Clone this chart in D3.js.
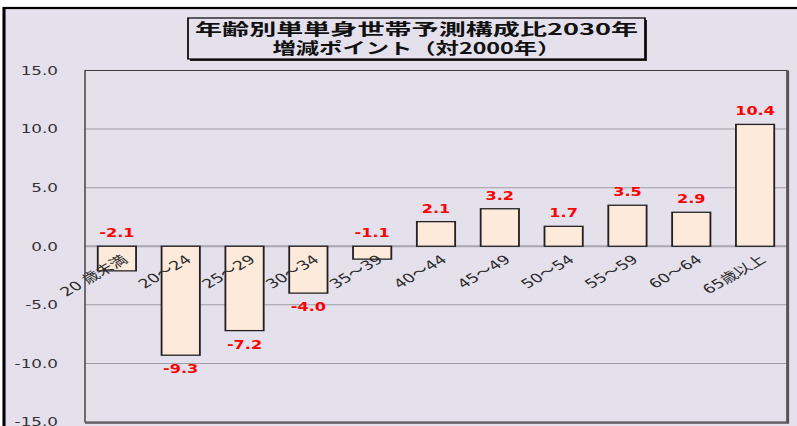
<!DOCTYPE html>
<html>
<head>
<meta charset="utf-8">
<script src="https://cdn.jsdelivr.net/npm/d3@7"></script>
<style>
  html, body { margin: 0; padding: 0; background: #fff; }
  svg { display: block; }
</style>
</head>
<body>
<div id="main"></div>
<script>
/*********************************************************
 * Data
 *********************************************************/
const categories = ['20 歳未満', '20～24', '25～29', '30～34', '35～39', '40～44',
  '45～49', '50～54', '55～59', '60～64', '65歳以上'];
const values = [-2.1, -9.3, -7.2, -4.0, -1.1, 2.1, 3.2, 1.7, 3.5, 2.9, 10.4];
const yTicks = [-15, -10, -5, 0, 5, 10, 15];
const titleLines = ['年齢別単単身世帯予測構成比2030年', '増減ポイント（対2000年）'];

/*********************************************************
 * Layout
 * the original picture is stretched sideways, so everything is
 * drawn in a narrower box and the viewBox widens it again
 *********************************************************/
const svgWidth = 797;
const svgHeight = 426;
const kx = 1.4;
const px = v => v / kx;

const plot = { l: 85, r: 787, t: 70.5, b: 422 };
const bg = '#e4e0ec';

// plain hyphen for negatives, like the original
const fmt = d3.formatLocale({
  decimal: '.', thousands: ',', grouping: [3], currency: ['', ''], minus: '-'
}).format('.1f');

const svg = d3
  .select('#main')
  .append('svg')
  .attr('width', svgWidth)
  .attr('height', svgHeight)
  .attr('viewBox', `0 0 ${px(svgWidth)} ${svgHeight}`)
  .attr('preserveAspectRatio', 'none');

// chart area + its black border (left and top only visible)
svg.append('rect')
  .attr('x', px(4)).attr('y', 8)
  .attr('width', px(svgWidth + 20)).attr('height', svgHeight + 20)
  .attr('fill', bg)
  .attr('stroke', '#000')
  .attr('stroke-width', 2.2);

/*********************************************************
 * Scales
 *********************************************************/
const x = d3.scaleBand()
  .domain(categories)
  .range([px(plot.l), px(plot.r)])
  .paddingInner(0.4)
  .paddingOuter(0.2);

const y = d3.scaleLinear()
  .domain([-15, 15])
  .range([plot.b, plot.t]);

/*********************************************************
 * Grid and frame
 *********************************************************/
svg.append('g')
  .selectAll('line')
  .data(yTicks.filter(t => t !== 15 && t !== -15))
  .enter().append('line')
  .attr('x1', px(plot.l)).attr('x2', px(plot.r))
  .attr('y1', d => y(d)).attr('y2', d => y(d))
  .attr('stroke', d => d === 0 ? '#aaa6b0' : '#a09ca6')
  .attr('stroke-width', d => d === 0 ? 2 : 1);

// frame
svg.append('rect')
  .attr('x', px(plot.l)).attr('y', plot.t)
  .attr('width', px(plot.r - plot.l)).attr('height', plot.b - plot.t)
  .attr('fill', 'none')
  .attr('stroke', '#3a3a3a')
  .attr('stroke-width', 1);
// heavier right / bottom edge
svg.append('path')
  .attr('d', `M${px(plot.r + 1)},${plot.t} V${plot.b + 1} H${px(plot.l)}`)
  .attr('fill', 'none')
  .attr('stroke', '#55525a')
  .attr('stroke-width', 1.6);

/*********************************************************
 * Y axis
 *********************************************************/
const yAxis = d3.axisLeft(y)
  .tickValues(yTicks)
  .tickFormat(fmt)
  .tickSize(0)
  .tickPadding(px(27));

svg.append('g')
  .attr('transform', `translate(${px(plot.l)},0)`)
  .call(yAxis)
  .call(g => g.select('.domain').remove())
  .selectAll('text')
  .attr('font-family', '"DejaVu Sans", Verdana, sans-serif')
  .attr('font-size', 12)
  .attr('fill', '#333');

/*********************************************************
 * Bars
 *********************************************************/
const data = categories.map((c, i) => ({ c, v: values[i] }));

svg.append('g')
  .selectAll('rect')
  .data(data)
  .enter().append('rect')
  .attr('x', d => x(d.c))
  .attr('width', x.bandwidth())
  .attr('y', d => y(Math.max(0, d.v)))
  .attr('height', d => Math.abs(y(d.v) - y(0)))
  .attr('fill', '#fdeadb')
  .attr('stroke', '#222')
  .attr('stroke-width', 1.3);

/*********************************************************
 * X axis labels (rotated, drawn across the bars)
 *********************************************************/
const xAxis = d3.axisBottom(x).tickSize(0).tickPadding(0);

svg.append('g')
  .attr('transform', `translate(0,${y(0)})`)
  .call(xAxis)
  .call(g => g.select('.domain').remove())
  .selectAll('text')
  .attr('font-family', '"DejaVu Sans", "Noto Sans CJK JP", sans-serif')
  .attr('font-size', 12.5)
  .attr('fill', '#2a2a2a')
  .attr('text-anchor', 'end')
  .attr('dy', '0.8em')
  .attr('transform', `translate(${px(3)},7) rotate(-39)`);

/*********************************************************
 * Value labels
 *********************************************************/
svg.append('g')
  .selectAll('text')
  .data(data)
  .enter().append('text')
  .attr('x', d => x(d.c) + x.bandwidth() / 2)
  .attr('y', d => {
    if (d.v >= 0) return y(d.v) - 9;
    if (d.v > -2.5) return y(0) - 9;   // small negatives sit above the axis
    return y(d.v) + 18;
  })
  .attr('text-anchor', 'middle')
  .attr('font-family', '"DejaVu Sans", Verdana, sans-serif')
  .attr('font-weight', 'bold')
  .attr('font-size', 11.5)
  .attr('fill', '#ff0000')
  .text(d => fmt(d.v));

/*********************************************************
 * Title box
 *********************************************************/
const tb = { l: 188, r: 645, t: 18, b: 59 };
const titleWidths = [443, 288];

svg.append('rect')
  .attr('x', px(tb.l + 2)).attr('y', tb.t + 2)
  .attr('width', px(tb.r - tb.l)).attr('height', tb.b - tb.t)
  .attr('fill', '#222');
svg.append('rect')
  .attr('x', px(tb.l)).attr('y', tb.t)
  .attr('width', px(tb.r - tb.l)).attr('height', tb.b - tb.t)
  .attr('fill', bg)
  .attr('stroke', '#000')
  .attr('stroke-width', 1.2);

svg.append('g')
  .selectAll('text')
  .data(titleLines)
  .enter().append('text')
  .attr('x', px((tb.l + tb.r) / 2))
  .attr('y', (d, i) => 35 + i * 19.5)
  .attr('text-anchor', 'middle')
  .attr('textLength', (d, i) => px(titleWidths[i]))
  .attr('lengthAdjust', 'spacingAndGlyphs')
  .attr('font-family', '"Noto Sans CJK JP", sans-serif')
  .attr('font-weight', 'bold')
  .attr('font-size', 15.5)
  .attr('fill', '#111')
  .text(d => d);
</script>
</body>
</html>
